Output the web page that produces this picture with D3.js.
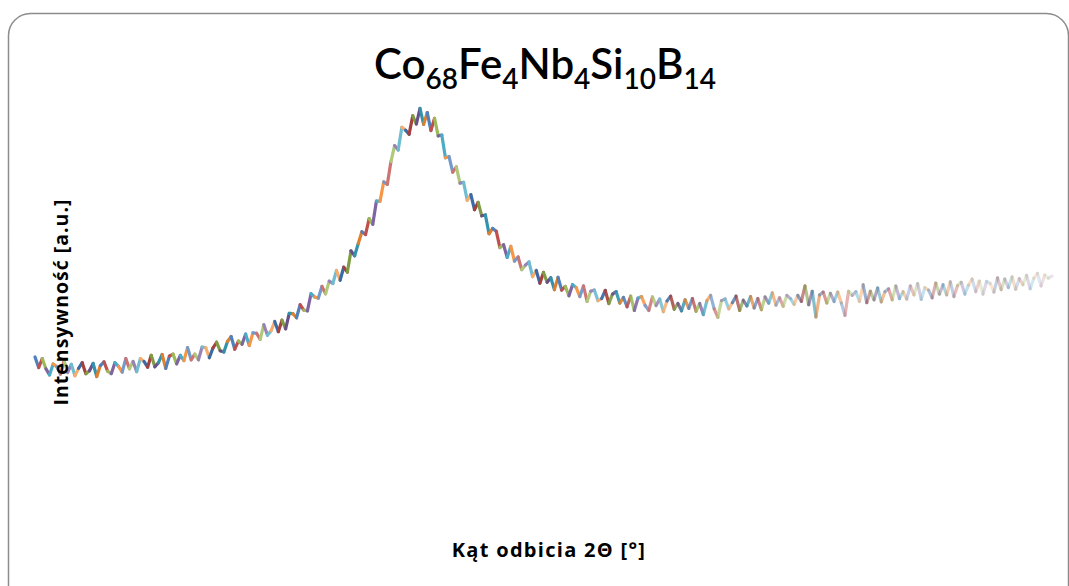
<!DOCTYPE html>
<html>
<head>
<meta charset="utf-8">
<script src="https://cdn.jsdelivr.net/npm/d3@7"></script>
<style>
	html, body { margin: 0; padding: 0; background: #ffffff; }
	svg { display: block; }
</style>
</head>
<body>
<svg id="chart" width="1069" height="586"></svg>
<script>
// 2-theta range (deg) and intensity values
const thetaStart = 20;
const thetaStep  = 0.25;
const intensity = [
	380,354,376,351,336,363,356,338,371,342,
	362,334,352,366,339,346,364,332,359,368,
	345,339,366,357,343,376,351,369,344,376,
	369,355,384,356,366,386,352,382,387,363,
	384,371,403,373,387,373,404,403,378,402,
	416,395,392,418,430,399,419,411,436,408,
	439,438,423,459,433,444,467,442,470,449,
	487,486,476,508,495,493,535,527,524,553,
	535,566,560,592,568,600,588,640,628,658,
	687,680,719,705,762,762,809,803,859,898,
	887,943,936,926,971,951,989,950,979,935,
	965,922,924,868,871,833,846,806,808,764,
	778,741,759,726,728,682,695,688,648,655,
	624,651,615,625,594,605,613,577,592,561,
	587,563,574,545,575,544,553,530,557,550,
	528,554,516,541,544,518,523,543,511,534,
	540,512,526,503,529,494,524,528,506,494,
	527,506,522,491,517,529,497,511,493,520,
	499,523,492,511,484,518,531,498,477,518,
	522,498,513,529,494,519,505,528,500,523,
	496,527,512,537,507,525,504,531,523,509,
	531,516,554,508,541,478,532,539,512,536,
	516,539,512,482,541,531,540,516,557,513,
	541,520,549,515,540,547,520,554,523,540,
	522,554,532,560,521,550,544,525,561,534,
	557,532,564,528,555,563,534,556,571,540,
	566,534,565,560,539,574,545,571,550,576,
	546,572,557,580,547,573,585,554,581,573,
	578
];
const theta = intensity.map((_, i) => thetaStart + i * thetaStep);

// "vary colors by point" palette (Office 2010 accents + light variants)
const pointColors = [
	"#4F81BD", "#C0504D", "#9BBB59", "#8064A2", "#4BACC6", "#F79646",
	"#729ACA", "#CD7371", "#AFC97A", "#9983B5", "#6FBDD1", "#F9AB6B",
	"#3A6BA5", "#A5403D", "#7F9C45", "#6A5089", "#3393AC", "#E07F2E"
];

const titleParts = [
	{ t: "Co", sub: false }, { t: "68", sub: true },
	{ t: "Fe", sub: false }, { t: "4", sub: true },
	{ t: "Nb", sub: false }, { t: "4", sub: true },
	{ t: "Si", sub: false }, { t: "10", sub: true },
	{ t: "B", sub: false },  { t: "14", sub: true }
];
const xLabel = "Kąt odbicia 2Θ [°]";
const yLabel = "Intensywność [a.u.]";

const svg = d3.select("#chart");

// chart frame
svg.append("rect")
	.attr("x", 8.5).attr("y", 13.5)
	.attr("width", 1060).attr("height", 620)
	.attr("rx", 22).attr("ry", 22)
	.attr("fill", "#ffffff")
	.attr("stroke", "#8c8c8c")
	.attr("stroke-width", 1.5);

// scales
const x = d3.scaleLinear().domain([20, 90]).range([35, 1052]);
const y = d3.scaleLinear().domain([0, 1000]).range([512, 104]);
const fade = d3.scaleLinear().domain([56, 90]).range([1, 0.22]).clamp(true);

// curve, one segment per point so each gets its own colour
const segs = d3.pairs(theta.map((t, i) => [t, intensity[i]]));
svg.append("g")
	.attr("fill", "none")
	.attr("stroke-width", 3.2)
	.attr("stroke-linecap", "round")
	.selectAll("line")
	.data(segs)
	.join("line")
		.attr("x1", d => x(d[0][0]))
		.attr("y1", d => y(d[0][1]))
		.attr("x2", d => x(d[1][0]))
		.attr("y2", d => y(d[1][1]))
		.attr("stroke", (d, i) => pointColors[i % pointColors.length])
		.attr("stroke-opacity", d => fade(d[0][0]));

// title with subscripts
const title = svg.append("text")
	.attr("x", 545).attr("y", 79)
	.attr("text-anchor", "middle")
	.attr("font-family", "Lato, 'Open Sans', sans-serif")
	.attr("font-weight", 600)
	.attr("fill", "#000000");
titleParts.forEach(p => {
	title.append("tspan")
		.attr("font-size", p.sub ? 28 : 42)
		.attr("dy", p.sub ? 10 : -10)
		.text(p.t);
});
title.select("tspan").attr("dy", 0);

// axis titles
svg.append("text")
	.attr("transform", "translate(68,302) rotate(-90)")
	.attr("text-anchor", "middle")
	.attr("font-family", "'Open Sans', sans-serif")
	.attr("font-weight", "bold")
	.attr("font-size", 19.5)
	.attr("letter-spacing", 1)
	.attr("fill", "#000000")
	.text(yLabel);

svg.append("text")
	.attr("x", 549).attr("y", 557)
	.attr("text-anchor", "middle")
	.attr("font-family", "'Open Sans', sans-serif")
	.attr("font-weight", "bold")
	.attr("font-size", 20)
	.attr("letter-spacing", 1.3)
	.attr("fill", "#000000")
	.text(xLabel);
</script>
</body>
</html>
